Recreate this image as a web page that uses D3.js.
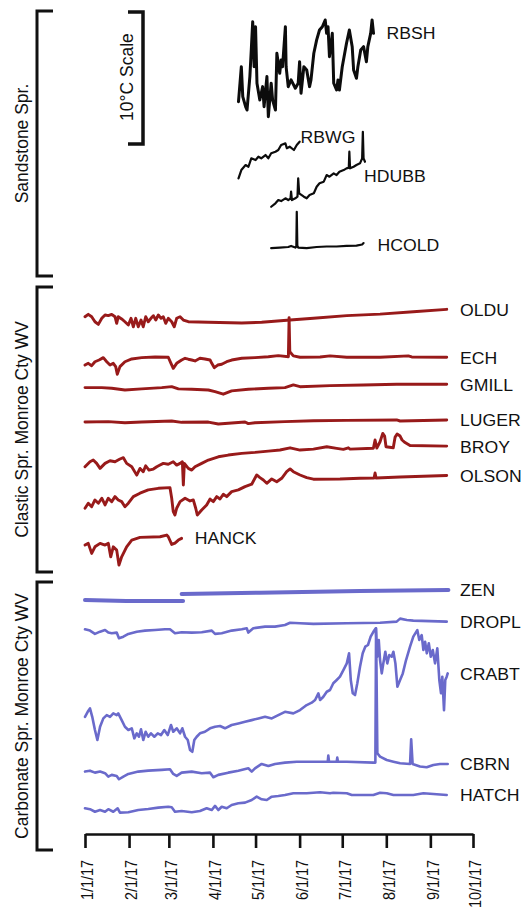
<!DOCTYPE html>
<html><head><meta charset="utf-8">
<script src="https://cdn.jsdelivr.net/npm/d3@7"></script>
<style>
body{margin:0;background:#fff}
svg{display:block}
text{font-family:"Liberation Sans",Arial,Helvetica,sans-serif;fill:#111}
</style>
</head><body>
<svg id="chart" width="524" height="915"></svg>
<script>
// ---------------- DATA ----------------
// Each series: [day since 1 Jan 2017, temperature deviation (°C) from the series' own baseline]
const rbsh = [[108,-0.13],[110,2.52],[111,0.25],[113,-0.51],[114,-0.76],[116,1.77],[117,3.79],[118,5.93],[119,2.52],[120,5.55],[121,1.27],[123,0],[125,1.01],[126,-0.51],[128,1.77],[129,-1.27],[131,1.27],[132,0],[134,-0.76],[135,3.54],[137,2.02],[138,3.03],[139,2.52],[141,5.55],[141.5,2.52],[143,1.01],[145,1.52],[148,0.89],[150,1.27],[151,2.9],[152,0.51],[154,2.52],[156,2.27],[158,1.01],[159,1.52],[161,3.54],[163,4.55],[165,5.3],[167,5.55],[169,6.06],[170,5.05],[171,5.55],[172,3.28],[174,5.05],[175,1.27],[177,0.76],[178,1.52],[179,0.76],[181,2.52],[184,4.3],[186,5.3],[188,4.04],[189,2.27],[191,1.64],[192,2.52],[194,3.79],[196,4.04],[198,2.9],[199,4.04],[201,5.05],[202,6.06],[203,5.05]];
const rbwg = [[108,-1.01],[110,-0.38],[113,0],[115,-0.13],[117,0.51],[120,0.38],[122,0.63],[124,0.51],[127,0.76],[129,0.51],[131,0.89],[134,1.01],[136,1.14],[138,1.52],[141,1.64],[142,1.27],[144,1.39],[147,1.14],[149,1.52],[151,1.77]];
const hdubb = [[131,-0.51],[134,-0.25],[136,0],[138,-0.08],[141,0.13],[143,0],[144.6,0.13],[145,0.63],[145.6,0],[148,0.13],[149.5,0.25],[150,1.64],[150.7,0.51],[154,0.25],[156,0.13],[158,0.38],[161,0.51],[163,1.01],[165,1.27],[168,1.39],[170,1.89],[172,1.77],[175,2.02],[177,1.89],[179,2.14],[182,2.27],[184,2.4],[185.6,2.45],[186,3.66],[186.5,2.4],[189,2.52],[191,2.65],[193.5,2.78],[195,3.16],[195.5,5.17],[196,3.16],[197,2.9]];
const hcold = [[131,-0.08],[137,-0.04],[143,0],[145,0.08],[148,-0.04],[148.7,0.02],[149,2.67],[149.4,0.1],[150,-0.04],[156,-0.08],[163,0],[170,0.04],[177,0.04],[184,0.08],[191,0.11],[195,0.19],[196,0.3]];
const oldu = [[0,0.25],[2.3,0.43],[4.7,0.25],[7,-0.13],[9.4,-0.33],[11.8,0.13],[14.1,0.38],[16.4,0.33],[18.8,0.43],[21.1,0.25],[22.3,-0.25],[23.4,0.25],[25.8,0.08],[28.1,-0.13],[30.5,-0.38],[32.4,0.13],[34,-0.51],[35.7,0.13],[37.5,-0.51],[39.4,0],[41,-0.51],[42.7,0.25],[44.5,-0.13],[46.4,0.13],[48.1,0.33],[49.8,0],[51.6,0.38],[53.5,0.13],[55.1,0.25],[56.8,-0.25],[58.6,0.13],[61,-0.13],[62.8,-0.51],[64.5,0.13],[66.9,0.25],[69.2,0],[72.7,-0.13],[86.8,-0.17],[110.3,-0.23],[124.3,-0.17],[144.3,0],[160.7,0.13],[184.2,0.33],[207.6,0.45],[231,0.63],[254.5,0.81]];
const ech = [[0,-0.61],[2.3,-0.48],[4.7,-0.66],[7,-0.36],[9.9,-0.23],[12.9,-0.05],[15.3,-0.36],[17.6,-0.61],[19.9,-0.48],[21.6,-0.73],[22.7,-1.31],[24.6,-0.73],[28.1,-0.36],[32.9,-0.15],[39.9,-0.05],[49.3,0],[58.6,-0.02],[60.5,-0.48],[62.1,-0.86],[64.5,-0.48],[68,-0.23],[70.4,-0.1],[72.7,-0.17],[75.1,-0.23],[77.4,-0.3],[80.9,-0.1],[84.4,-0.15],[88,-0.23],[89.2,-0.48],[91,-0.81],[93.4,-0.61],[96.2,-0.55],[99.7,-0.36],[103.2,-0.23],[110.3,-0.1],[119.6,-0.05],[129,0.02],[136,0.1],[143.1,0.02],[143.6,2.98],[144.1,0.4],[146.6,0.08],[151.3,-0.02],[165.4,0],[172.4,0.08],[184.2,-0.02],[207.6,-0.02],[227.5,0.08],[229.9,0],[254.5,-0.02]];
const gmill = [[0,-0.05],[11.8,-0.05],[18.8,-0.1],[28.1,-0.23],[39.9,-0.15],[54,-0.05],[61,0.02],[65.7,-0.15],[75.1,-0.17],[86.8,-0.23],[91.5,-0.36],[97.3,-0.55],[103.2,-0.3],[114.9,-0.17],[129,-0.1],[140.7,-0.05],[146.6,0.15],[151.3,0.02],[172.4,0.1],[195.8,0.15],[219.3,0.2],[254.5,0.2]];
const luger = [[0,-0.08],[16.4,-0.05],[28.1,-0.13],[39.9,-0.08],[61,0],[68,-0.1],[86.8,-0.08],[93.8,-0.23],[103.2,-0.15],[112.6,-0.08],[114.9,-0.2],[119.6,-0.13],[140.7,-0.05],[160.7,0.02],[184.2,0.05],[219.3,0.08],[221.7,0],[254.5,0.08]];
const broy = [[0,-1.42],[3.5,-1.04],[5.8,-0.91],[8.2,-1.16],[10.6,-1.54],[14.1,-1.16],[17.6,-0.96],[21.1,-1.04],[24.6,-0.83],[27,-0.73],[29.3,-1.16],[32.9,-1.42],[36.4,-2.05],[38.7,-1.54],[41,-1.8],[42.7,-1.34],[45,-1.67],[48.1,-1.59],[50.5,-1.42],[52.8,-1.29],[55.1,-1.16],[58.6,-1.23],[62.1,-1.04],[64.5,-1.29],[66.9,-1.16],[68.5,-1.04],[69.2,-2.8],[69.9,-1.16],[72.7,-1.54],[75.1,-1.67],[77.4,-1.42],[82.1,-1.16],[86.8,-0.91],[93.8,-0.66],[100.8,-0.53],[110.3,-0.4],[119.6,-0.33],[129,-0.23],[137.2,-0.15],[144.3,0.02],[151.3,-0.15],[160.7,-0.08],[170.1,0.1],[177.1,-0.02],[181.8,-0.1],[185.3,0.02],[186.5,-0.08],[202.9,-0.02],[204.1,0.61],[205.3,0],[207.6,0.48],[209.5,1.11],[210.8,0.91],[211.8,0.1],[216.9,0.02],[218.2,0.83],[219.6,1.06],[221.7,0.91],[223.1,0.61],[225.2,0.42],[228.7,0.19],[254.5,0.15]];
const olson = [[0,-2.37],[2.3,-1.99],[4.7,-2.25],[7,-1.74],[9.4,-1.99],[11.8,-1.61],[14.1,-2.12],[16.4,-1.61],[18.8,-1.87],[21.1,-1.49],[23.4,-1.74],[25.8,-1.87],[28.1,-2.25],[30.5,-1.99],[34,-1.49],[38.7,-1.23],[44.5,-0.98],[51.6,-0.86],[59.8,-0.81],[61,-1.61],[62.1,-2.63],[63.3,-2.88],[64.5,-2.37],[66.9,-1.87],[70.4,-1.61],[73.9,-1.82],[76.2,-1.74],[77.9,-2.37],[79,-2.88],[82.1,-2.5],[85.6,-2.12],[88,-1.67],[90.3,-1.87],[92.7,-1.49],[95,-1.67],[97.3,-1.31],[99.7,-1.49],[103.2,-1.11],[107.9,-0.98],[112.6,-0.73],[117.3,-0.55],[120.8,0.15],[123.1,-0.05],[125.5,-0.23],[127.9,-0.48],[131.4,-0.15],[134.9,-0.36],[138.4,-0.1],[141.9,0.4],[144.3,0.61],[146.6,0.4],[151.3,0.15],[156,-0.05],[160.7,-0.17],[179.4,-0.15],[193.5,-0.1],[203.4,-0.08],[204.1,0.3],[204.8,-0.08],[221.7,0],[254.5,0.11]];
const hanck = [[0,-0.38],[2.3,-0.25],[4.7,-1.01],[7,-0.51],[10.6,-0.25],[14.1,-0.38],[16.4,-0.25],[18.1,-1.27],[19.9,-0.51],[22.3,-0.76],[23.9,-1.89],[25.8,-1.27],[29.3,-0.51],[32.9,0],[38.7,0.2],[52.8,0.25],[57.5,0.38],[58.6,0.25],[61,-0.33],[63.3,-0.23],[65.7,0],[68,0.13]];
const zenA = [[0,-0.38],[29,-0.45],[69,-0.45]];
const zenB = [[68,0.08],[123,0.17],[193.5,0.3],[255.7,0.38]];
const dropl = [[0,-0.33],[3.5,-0.43],[7,-0.68],[10.6,-0.51],[14.1,-0.38],[16.4,-0.58],[18.8,-0.63],[22.3,-0.58],[23.9,-1.01],[27,-0.89],[30.5,-0.68],[36.4,-0.51],[42.2,-0.43],[49.3,-0.38],[56.3,-0.33],[59.8,-0.33],[63.3,-0.63],[68,-0.55],[75.1,-0.58],[82.1,-0.55],[89.2,-0.43],[91.5,-0.68],[96.2,-0.63],[103.2,-0.43],[110.3,-0.33],[113.8,-0.25],[114.9,-0.58],[118.4,-0.25],[126.7,-0.13],[133.7,-0.13],[140.7,0],[144.3,0.17],[151.3,0.13],[160.7,0.08],[184.2,0.13],[207.6,0.17],[219.3,0.25],[221.7,0.48],[226.4,0.38],[231,0.33],[254.5,0.25]];
const crabt = [[0,-1.27],[1.9,-0.89],[3.5,-0.63],[5.1,-1.27],[7,-2.27],[8.7,-3.03],[10.6,-2.02],[12.9,-1.39],[15.3,-1.14],[17.6,-1.27],[19.9,-1.01],[22.3,-1.14],[23.4,-1.01],[25.8,-1.52],[28.1,-2.02],[30.5,-2.27],[32.9,-2.14],[34.7,-2.9],[36.4,-2.52],[38,-2.78],[39.4,-2.22],[41,-3.03],[42.7,-2.4],[44.5,-2.78],[46.4,-2.52],[48.8,-2.78],[51.2,-2.52],[53.5,-2.65],[55.8,-2.27],[58.2,-2.65],[60.5,-1.89],[62.1,-2.4],[64.5,-2.14],[66.9,-2.52],[68.5,-2.14],[70.4,-2.78],[72.3,-3.03],[73.9,-3.79],[75.5,-3.92],[76.9,-3.03],[78.6,-2.78],[80.9,-2.52],[84.4,-2.4],[88,-2.14],[91.5,-2.02],[95,-1.97],[98.5,-2.14],[103.2,-1.89],[107.9,-1.77],[112.6,-1.64],[117.3,-1.52],[122,-1.39],[126.7,-1.27],[131.4,-1.39],[136,-1.14],[140.7,-0.89],[146.6,-1.01],[151.3,-0.76],[156,-0.38],[159.5,-0.2],[161.9,0],[164.2,0.51],[165.4,0],[167.7,0.25],[170.1,0.63],[172.4,0.76],[174.7,1.27],[177.1,1.52],[179.4,1.77],[181.8,2.27],[184.2,2.78],[185.8,3.54],[187,1.52],[188.4,0.51],[190,0.38],[191.6,1.27],[193.5,2.52],[195.4,3.54],[197.2,4.04],[199.1,4.17],[201,4.8],[202.9,5.17],[204.6,5.43],[205.7,3.28],[206.7,4.55],[207.6,3.03],[208.8,2.02],[209.9,2.78],[211.3,3.66],[212.7,2.78],[214.1,3.41],[215.8,3.28],[217,3.66],[218.4,2.78],[219.8,1.01],[221.7,1.52],[223.6,2.02],[225.9,3.03],[228.7,4.04],[231,4.8],[233.8,5.3],[235.2,4.55],[236.9,4.92],[238.1,3.79],[239.3,4.42],[240.5,3.54],[241.9,4.3],[243.3,3.28],[244.7,3.79],[246.3,2.78],[247.9,3.92],[249.3,1.52],[250.5,0.51],[251.4,1.77],[252.6,-0.76],[253.5,1.52],[254.5,1.77],[255.2,2.02]];
const cbrn = [[0,-0.58],[3.5,-0.51],[7,-0.66],[10.6,-0.58],[14.1,-0.7],[16.4,-0.96],[18.8,-0.83],[22.3,-0.91],[23.9,-1.16],[27,-0.96],[30.5,-0.76],[37.5,-0.58],[44.5,-0.51],[54,-0.45],[59.8,-0.4],[62.1,-0.76],[64.5,-0.91],[68,-0.66],[75.1,-0.58],[82.1,-0.7],[88,-0.66],[90.3,-1.01],[93.8,-0.83],[100.8,-0.66],[107.9,-0.51],[114.9,-0.33],[117.3,-0.58],[119.6,-0.33],[124.3,0],[129,-0.15],[133.7,0],[140.7,0.1],[149,0.17],[160.7,0.17],[170.8,0.17],[171.2,0.63],[171.7,0.17],[177.1,0.17],[177.5,0.48],[178,0.17],[184.2,0.17],[202.9,0.1],[204.3,0.1],[204.8,10.28],[205.7,0.81],[207.6,0.55],[212.3,0.3],[217,0.17],[221.7,0.05],[228.7,0],[229.5,1.87],[230.5,0],[235.7,-0.2],[240.4,-0.25],[245.1,-0.08],[249.8,0],[255.2,0]];
const hatch = [[0,-1.01],[3.5,-1.08],[7,-1.27],[10.6,-1.14],[14.1,-1.27],[16.4,-1.08],[19.9,-1.27],[23,-1.01],[24.6,-1.34],[30.5,-1.31],[37.5,-1.14],[44.5,-1.06],[51.6,-0.96],[58.6,-0.89],[61,-0.93],[63.3,-1.27],[68,-1.21],[75.1,-1.31],[80.9,-1.21],[85.6,-1.01],[89.2,-1.14],[91.5,-0.83],[93.8,-1.14],[96.2,-0.89],[99.7,-1.01],[103.2,-0.76],[107.9,-0.63],[112.6,-0.58],[117.3,-0.38],[120.8,-0.13],[124.3,-0.33],[127.9,-0.38],[131.4,-0.13],[136,-0.08],[140.7,0],[146.6,0.13],[156,0.13],[165.4,0.2],[172.4,0.13],[174.7,0.17],[184.2,0.13],[187.7,0],[202.9,0],[207.6,0.17],[212.3,0.13],[217,0],[231,0],[238.1,0.13],[254.5,0]];

const seriesNames   = ["RBSH","RBWG","HDUBB","HCOLD","OLDU","ECH","GMILL","LUGER","BROY","OLSON","HANCK","ZEN","ZEN","DROPL","CRABT","CBRN","HATCH"];
const seriesData    = [rbsh, rbwg, hdubb, hcold, oldu, ech, gmill, luger, broy, olson, hanck, zenA, zenB, dropl, crabt, cbrn, hatch];
const seriesGroup   = ["sand","sand","sand","sand","clas","clas","clas","clas","clas","clas","clas","carb","carb","carb","carb","carb","carb"];
// vertical stacking baseline of each series, in °C on a shared stacked temperature axis
const seriesOffsets = [56.82, 51.89, 49.24, 45.68, 40.15, 37.35, 35.08, 32.5, 30.45, 28.26, 23.48, 19.32, 19.32, 17.05, 11.36, 6.52, 4.17];

const groupNames = ["Sandstone Spr.","Clastic Spr. Monroe Cty WV","Carbonate Spr. Monroe Cty WV"];
const tickMonths = [0,1,2,3,4,5,6,7,8,9];
const tickLabels = ["1/1/17","2/1/17","3/1/17","4/1/17","5/1/17","6/1/17","7/1/17","8/1/17","9/1/17","10/1/17"];
const scaleBarLabel = "10\u00B0C Scale";
const scaleBarDegrees = 10;

// ---------------- DRAWING ----------------
const svg = d3.select("#chart");
const t0 = new Date(2017,0,1);
const toDate = d => new Date(t0.getTime() + d*864e5);

const x = d3.scaleTime().domain([new Date(2017,0,1), new Date(2017,9,1)]).range([85, 473]);
const y = d3.scaleLinear().domain([0, 64]).range([850, 850 - 64*13.2]);

const colors = {sand:"#0c0c0c", clas:"#981a1a", carb:"#6a6acb"};
const widths = {sand:2.2, clas:2.9, carb:2.6};

const line = d3.line().curve(d3.curveLinear);

seriesData.forEach((data, i) => {
  const off = seriesOffsets[i];
  const g = seriesGroup[i];
  let w = widths[g];
  if (seriesNames[i] === "ZEN") w = 4;
  if (seriesNames[i] === "RBSH") w = 3;
  svg.append("path")
    .attr("d", line.x(d => x(toDate(d[0]))).y(d => y(off + d[1]))(data))
    .attr("fill","none")
    .attr("stroke", colors[g])
    .attr("stroke-width", w)
    .attr("stroke-linejoin","round")
    .attr("stroke-linecap","round");
});

// Series labels
const labelNudge = { // [dx from line end, dy]
  RBSH:[13,0], RBWG:[1,-5], HDUBB:[-1,14], HCOLD:[14,2], HANCK:[13,0]
};
seriesData.forEach((data, i) => {
  const name = seriesNames[i];
  if (data === zenA) return;
  const last = data[data.length-1];
  const ex = x(toDate(last[0])), ey = y(seriesOffsets[i] + last[1]);
  let lx, ly;
  if (labelNudge[name]) { lx = ex + labelNudge[name][0]; ly = ey + labelNudge[name][1]; }
  else { lx = 460; ly = ey + 0.5; }
  svg.append("text")
    .attr("transform", `translate(${lx},${ly}) scale(1.07,1)`)
    .attr("dy","0.36em")
    .attr("font-size","16.5px")
    .text(name);
});

// Group brackets (left)
const brackets = [[11,276],[287,572],[582,850]];
brackets.forEach((b, i) => {
  svg.append("path")
    .attr("d", `M53,${b[0]}H37V${b[1]}H53`)
    .attr("fill","none").attr("stroke","#111").attr("stroke-width",3);
  const cy = (b[0]+b[1])/2;
  svg.append("text")
    .attr("transform", `translate(21,${cy}) scale(1.08,1) rotate(-90)`)
    .attr("text-anchor","middle")
    .attr("dy","0.36em")
    .attr("font-size","17.5px")
    .text(groupNames[i]);
});

// 10°C scale bar
const sbTop = y(63.48), sbBot = y(63.48 - scaleBarDegrees);
svg.append("path")
  .attr("d", `M128,${sbTop}H143V${sbBot}H128`)
  .attr("fill","none").attr("stroke","#111").attr("stroke-width",3.5);
svg.append("text")
  .attr("transform", `translate(126,${(sbTop+sbBot)/2 - 1}) scale(1.08,1) rotate(-90)`)
  .attr("text-anchor","middle").attr("dy","0.36em")
  .attr("font-size","17.5px")
  .text(scaleBarLabel);

// Time axis
const axis = d3.axisBottom(x)
  .tickValues(tickMonths.map(m => new Date(2017, m, 1)))
  .tickFormat((d,i) => tickLabels[i])
  .tickSizeInner(14).tickSizeOuter(0);
const ga = svg.append("g").attr("transform","translate(0,834)").call(axis);
ga.select(".domain").attr("stroke","#111").attr("stroke-width",2.6);
ga.selectAll(".tick line").attr("stroke","#111").attr("stroke-width",2.6);
ga.selectAll(".tick text")
  .attr("x",null).attr("y",null).attr("dy","0.36em")
  .attr("text-anchor","end")
  .attr("transform","translate(2,26) scale(1.13,1) rotate(-90)")
  .attr("font-size","14.4px")
  .attr("font-family","Liberation Sans, Arial, sans-serif")
  .attr("fill","#111");
</script>
</body></html>
